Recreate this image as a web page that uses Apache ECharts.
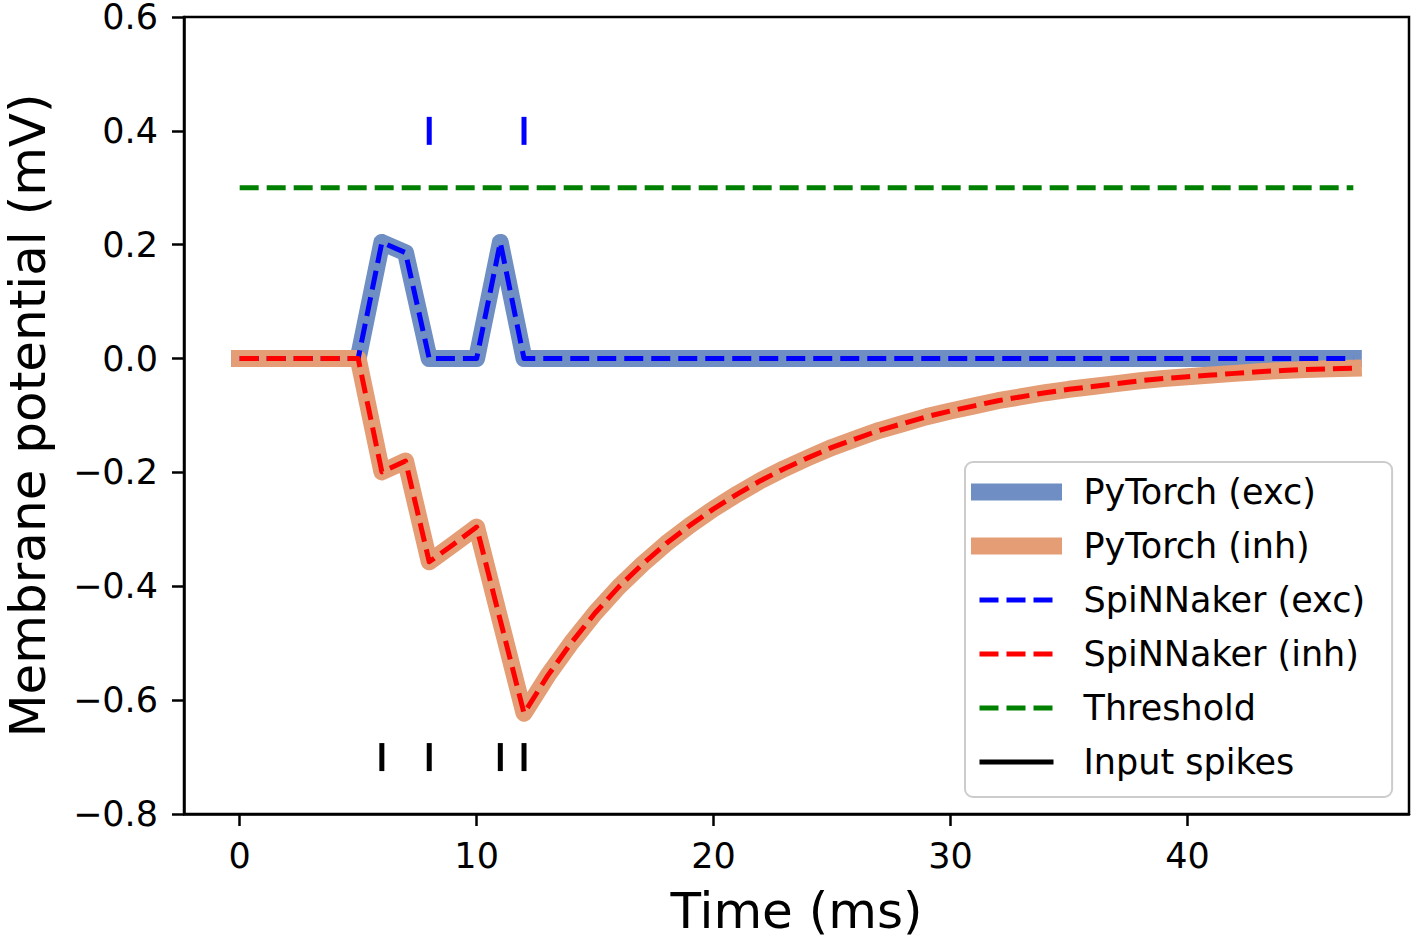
<!DOCTYPE html>
<html>
<head>
<meta charset="utf-8">
<script src="https://cdn.jsdelivr.net/npm/echarts@6/dist/echarts.min.js"></script>
<style>
  html, body { margin: 0; padding: 0; background: #fff; }
  #chart { width: 1417px; height: 942px; }
</style>
</head>
<body>
<div id="chart"></div>
<script>
// ---- data ----
const timeMs = [0,1,2,3,4,5,6,7,8,9,10,11,12,13,14,15,16,17,18,19,20,21,22,23,24,25,26,27,28,29,30,31,32,33,34,35,36,37,38,39,40,41,42,43,44,45,46,47];

const pytorchExc = [0,0,0,0,0,0,0.204,0.186,0,0,0,0.204,0,0,0,0,0,0,0,0,0,0,0,0,0,0,0,0,0,0,0,0,0,0,0,0,0,0,0,0,0,0,0,0,0,0,0,0];
const spinnakerExc = [0,0,0,0,0,0,0.204,0.186,0,0,0,0.204,0,0,0,0,0,0,0,0,0,0,0,0,0,0,0,0,0,0,0,0,0,0,0,0,0,0,0,0,0,0,0,0,0,0,0,0];

const pytorchInh = [0,0,0,0,0,0,-0.199,-0.180,-0.357,-0.327,-0.296,-0.460,-0.623,-0.557,-0.499,-0.447,-0.401,-0.361,-0.325,-0.293,-0.264,-0.238,-0.214,-0.193,-0.174,-0.156,-0.141,-0.126,-0.114,-0.102,-0.092,-0.083,-0.074,-0.067,-0.060,-0.054,-0.049,-0.044,-0.039,-0.035,-0.032,-0.029,-0.026,-0.023,-0.021,-0.019,-0.018,-0.017];
const spinnakerInh = [0,0,0,0,0,0,-0.199,-0.180,-0.357,-0.327,-0.296,-0.460,-0.623,-0.557,-0.499,-0.447,-0.401,-0.361,-0.325,-0.293,-0.264,-0.238,-0.214,-0.193,-0.174,-0.156,-0.141,-0.126,-0.114,-0.102,-0.092,-0.083,-0.074,-0.067,-0.060,-0.054,-0.049,-0.044,-0.039,-0.035,-0.032,-0.029,-0.026,-0.023,-0.021,-0.019,-0.018,-0.017];

const thresholdTimes = [0, 47];
const thresholdValue = 0.3;

const inputSpikeTimes = [6, 8, 11, 12];
const inputSpikeLevel = -0.7;
const outputSpikeTimes = [8, 12];
const outputSpikeLevel = 0.4;

const xTickValues = [0, 10, 20, 30, 40];
const seriesNames = ['PyTorch (exc)', 'PyTorch (inh)', 'SpiNNaker (exc)', 'SpiNNaker (inh)', 'Threshold', 'Input spikes'];

// ---- chart ----
const FONT = 'DejaVu Sans';
const pair = (arr) => timeMs.map((t, i) => [t, arr[i]]);
const dash = [19, 8];

const chart = echarts.init(document.getElementById('chart'), null, { renderer: 'svg' });

const option = {
  animation: false,
  backgroundColor: '#ffffff',
  grid: {
    left: 184, top: 17, right: 8, bottom: 128,
    outerBoundsMode: 'none', containLabel: false,
    show: true, borderColor: '#000', borderWidth: 2.5, backgroundColor: 'transparent'
  },
  xAxis: {
    type: 'value',
    min: -2.35, max: 49.35,
    name: 'Time (ms)',
    nameLocation: 'middle',
    nameGap: 72,
    nameTextStyle: { fontFamily: FONT, fontSize: 50, color: '#000' },
    axisLine: { show: true, onZero: false, lineStyle: { color: '#000', width: 2.5 } },
    axisTick: { show: true, length: 12, lineStyle: { color: '#000', width: 2.5 }, customValues: xTickValues },
    axisLabel: { fontFamily: FONT, fontSize: 35, color: '#000', margin: 24, customValues: xTickValues,
      formatter: v => String(v) },
    splitLine: { show: false }
  },
  yAxis: {
    type: 'value',
    min: -0.8, max: 0.6, interval: 0.2,
    name: 'Membrane potential (mV)',
    nameLocation: 'middle',
    nameGap: 131,
    nameTextStyle: { fontFamily: FONT, fontSize: 50, color: '#000', lineHeight: 50 },
    axisLine: { show: true, onZero: false, lineStyle: { color: '#000', width: 2.5 } },
    axisTick: { show: true, length: 12, lineStyle: { color: '#000', width: 2.5 } },
    axisLabel: { fontFamily: FONT, fontSize: 35, color: '#000', margin: 26, lineHeight: 24,
      formatter: v => (v < -1e-9 ? '\u2212' : '') + Math.abs(v).toFixed(1) },
    splitLine: { show: false }
  },
  legend: {
    orient: 'vertical',
    left: 965, top: 462,
    padding: [10, 27, 15, 6],
    itemGap: 14,
    itemWidth: 74, itemHeight: 17,
    selectedMode: false,
    backgroundColor: 'rgba(255,255,255,0.8)',
    borderColor: '#cccccc', borderWidth: 2, borderRadius: 8,
    textStyle: { fontFamily: FONT, fontSize: 35, color: '#000', lineHeight: 40, padding: [0, 0, 0, 25] },
    data: [
      { name: seriesNames[0], itemStyle: { opacity: 0 }, lineStyle: { width: 17, cap: 'square' } },
      { name: seriesNames[1], itemStyle: { opacity: 0 }, lineStyle: { width: 17, cap: 'square' } },
      { name: seriesNames[2], itemStyle: { opacity: 0 }, lineStyle: { width: 5 } },
      { name: seriesNames[3], itemStyle: { opacity: 0 }, lineStyle: { width: 5 } },
      { name: seriesNames[4], itemStyle: { opacity: 0 }, lineStyle: { width: 5 } },
      { name: seriesNames[5], icon: 'path://M0,0H74V5H0Z', itemStyle: { color: '#000', opacity: 1 } }
    ]
  },
  series: [
    {
      name: seriesNames[0], type: 'line', data: pair(pytorchExc),
      symbol: 'none', color: '#6F8FC4',
      lineStyle: { color: '#6F8FC4', width: 17, cap: 'square', join: 'round' }
    },
    {
      name: seriesNames[1], type: 'line', data: pair(pytorchInh),
      symbol: 'none', color: '#E49D75',
      lineStyle: { color: '#E49D75', width: 17, cap: 'square', join: 'round' }
    },
    {
      name: seriesNames[2], type: 'line', data: pair(spinnakerExc),
      symbol: 'none', color: '#0000ff',
      lineStyle: { color: '#0000ff', width: 5, type: dash, cap: 'butt', join: 'round' }
    },
    {
      name: seriesNames[3], type: 'line', data: pair(spinnakerInh),
      symbol: 'none', color: '#ff0000',
      lineStyle: { color: '#ff0000', width: 5, type: dash, cap: 'butt', join: 'round' }
    },
    {
      name: seriesNames[4], type: 'line',
      data: thresholdTimes.map(t => [t, thresholdValue]),
      symbol: 'none', color: '#008000',
      lineStyle: { color: '#008000', width: 5, type: dash, cap: 'butt' }
    },
    {
      name: seriesNames[5], type: 'scatter',
      data: inputSpikeTimes.map(t => [t, inputSpikeLevel]),
      symbol: 'rect', symbolSize: [5, 28], color: '#000',
      itemStyle: { color: '#000', opacity: 1 }
    },
    {
      name: 'Output spikes', type: 'scatter',
      data: outputSpikeTimes.map(t => [t, outputSpikeLevel]),
      symbol: 'rect', symbolSize: [5, 28], color: '#0000ff',
      itemStyle: { color: '#0000ff', opacity: 1 }
    }
  ]
};

chart.setOption(option);
</script>
</body>
</html>
